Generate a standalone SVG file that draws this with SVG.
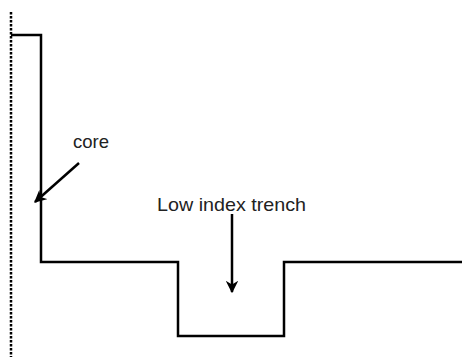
<svg xmlns="http://www.w3.org/2000/svg" width="462" height="357" viewBox="0 0 462 357">
  <defs>
    <style>
      .axis { fill: none; stroke: #000; stroke-width: 2.5; stroke-dasharray: 2.5 1.5; }
      .profile { fill: none; stroke: #000; stroke-width: 2.5; stroke-linejoin: miter; }
      .arrow { fill: none; stroke: #000; stroke-width: 2.5; marker-end: url(#head); }
      .label { font-family: "Liberation Sans", Arial, sans-serif; font-size: 18.5px; fill: #222; }
    </style>
    <marker id="head" viewBox="0 0 10 10" refX="9" refY="5" markerWidth="5" markerHeight="5" orient="auto" markerUnits="strokeWidth">
      <path d="M0,0 L10,5 L0,10 L3,5 Z" fill="#000"/>
    </marker>
  </defs>
  <rect width="462" height="357" fill="#fff"/>

  <!-- fibre axis -->
  <g id="axis">
    <line class="axis" x1="11" y1="12" x2="11" y2="357"/>
  </g>

  <!-- refractive index profile -->
  <g id="profile">
    <path class="profile" d="M11,35 H41 V262 H178 V336 H284 V262 H462"/>
  </g>

  <!-- labels -->
  <g id="core-label">
    <text class="label" x="73" y="148">core</text>
  </g>
  <g id="trench-label">
    <text class="label" x="157" y="211" textLength="149" lengthAdjust="spacingAndGlyphs">Low index trench</text>
  </g>

  <!-- pointers -->
  <g id="connectors">
    <line class="arrow" x1="79" y1="163" x2="35" y2="202"/>
    <line class="arrow" x1="232" y1="214" x2="232" y2="292"/>
  </g>
</svg>
